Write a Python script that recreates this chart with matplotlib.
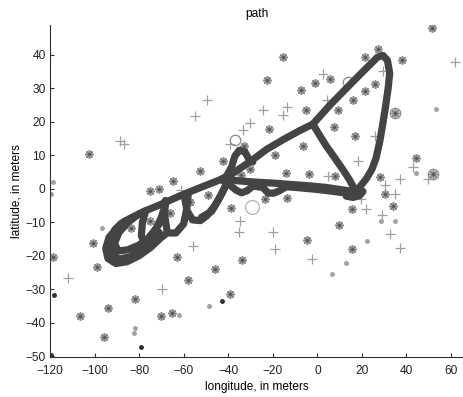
import matplotlib
matplotlib.use("Agg")
import matplotlib.pyplot as plt

# --- track segments (longitude, latitude in meters) ---
upper_x = [-93, -91, -88, -84, -78, -70, -62, -52, -44, -38, -30, -22.7, -15, -7.8, -2, 5.7, 11, 16, 20.5, 24,
           27, 29.5, 31.5, 32.5, 31.8, 30.5, 29.3, 28, 26.3, 24.5, 22, 19, 16]
upper_y = [-15, -12.3, -10.3, -8.8, -6.8, -4.6, -2.2, 0.5, 2.6, 4.6, 8.2, 11.8, 14.8, 17.4, 19.3, 25, 28.6, 32, 35, 37.3,
           39.3, 39.8, 38.3, 34.5, 30, 24, 19, 14, 9, 5.8, 3, 0.5, -1]

diag_x = [-2, 1, 4, 7, 9.5, 11.7, 14.6, 17]
diag_y = [19.3, 16, 12.8, 10, 7.6, 5.5, 2.5, -0.5]

bottom_a_x = [18, 10, 4, -4, -12, -20, -28, -36, -41]
bottom_a_y = [-1, -0.2, 0.4, 0.9, 1.3, 1.7, 2.0, 2.4, 3]
bottom_b_x = [18, 12, 5, 0, -8, -14, -17, -19.5, -22, -24.5, -29, -31.5, -34, -36.5, -39, -42]
bottom_b_y = [-1.5, -1.2, -0.6, -0.2, 0.3, 0.6, -0.6, -1.3, -1.3, 0.4, 0.8, -0.6, -1.2, -0.4, 1.0, 2.2]

corner_x = [13, 16, 19, 20.5, 18]
corner_y = [-2.2, -2.6, -2.0, -0.8, 0]

bump_x = [-41, -38.5, -37, -35, -32.5, -31, -29]
bump_y = [3.5, 6.5, 9.8, 11.5, 11.0, 9.2, 8]

outer_x = [-86, -90, -93.5, -95, -94, -90.5, -85.5, -80, -75, -70.5, -67.5, -63.5, -60, -58.8, -58]
outer_y = [-9.5, -11.8, -14.5, -17.8, -20.8, -22.3, -21.8, -20.0, -17.6, -14.8, -13.2, -13.2, -10.5, -6.5, -2]

inner_x = [-80, -85, -89, -91, -89.5, -85, -80, -76, -72.5, -70, -68]
inner_y = [-7.5, -10, -13, -16.2, -18.6, -18.2, -16.8, -14.8, -12, -8.5, -4.2]

inner2_x = [-77, -78.5, -79, -77.5, -74, -70.5]
inner2_y = [-6.5, -10, -14, -16.5, -13.5, -10]

inner3_x = [-88, -92, -92.5, -89, -84, -79, -74.5, -71]
inner3_y = [-11, -15, -19.5, -21, -20.3, -18.4, -16, -13]

leg_x = [-68.2, -68.5, -67.5]
leg_y = [-3.5, -8, -12.5]

u2_x = [-59.5, -58.5, -56, -52.5, -49.5, -46, -42.5, -40]
u2_y = [-3, -6.5, -9.3, -9.5, -8, -5, -1, 2.5]
u3_x = [-52, -47.5, -44.5, -41.5]
u3_y = [-8.5, -6.8, -3.5, 0.5]

# --- scattered fixes ---
star_x = [51.6, -15.3, 27.4, 21.4, 38.1, -22.7, -1.1, 5.7, -7.1, 21.4, 25.9, 16.1, -5.2, 9.1, -21.6, 7.6,
          16.9, -6.3, -19.0, -32.8, -102.4, 44.3, -42.5, -52.7, -30.2, -34.4, -14.1, -3.8, 7.9, 28.1, 52.0,
          -64.9, -70.9, -75.1, 34.8, -118.8, -100.8, -99.0, -106.5, -95.8, -93.8, -81.8, -70.2, -65.4, -63.1,
          -57.9, -45.9, -39.2, -33.7, -38.8, -23.5, -13.8, -4.8, 9.8, 15.4, 15.4, 34.1, 30.3, -48.9, -57.2,
          -66.1, -75.1, -83.6]
star_y = [47.9, 39.2, 41.6, 39.2, 38.4, 32.4, 31.7, 32.9, 29.4, 29.2, 31.4, 26.4, 23.4, 23.4, 17.8, 18.4,
          15.7, 12.8, 10.0, 12.8, 10.3, 9.2, 8.2, 5.2, 6.0, 4.0, 4.8, 4.5, 3.8, 3.5, 4.5,
          2.2, 0.0, -0.7, 22.5, -20.5, -16.2, -23.5, -38.0, -44.2, -35.6, -32.8, -38.0, -37.1, -20.3,
          -27.2, -24.1, -31.3, -21.2, -5.7, -3.0, -2.7, -15.2, -10.8, -6.0, -18.0, -5.2, -1.5, -2.0, -4.0,
          -7.3, -9.5, -11.7]

plus_x = [-49.7, -54.9, -88.6, -86.8, -24.3, -13.5, -15.3, 2.4, 4.2, -30.2, -33.2, -39.2, 18.4, 4.9, 37.1,
          43.1, 49.5, 61.8, 29.6, 25.9, 30.4, 34.8, -61.0, -111.8, -69.6, -56.0, -34.7, -35.2, -19.8, -19.0,
          -2.6, 19.6, 21.7, 29.1, 32.6, 37.1, -79.6]
plus_y = [26.6, 21.7, 14.2, 13.3, 23.4, 24.4, 21.9, 34.4, 26.6, 19.5, 17.5, 13.5, 8.3, 3.8, 2.8,
          6.5, 3.0, 37.9, 35.2, 15.7, 1.0, -1.5, -0.3, -26.5, -29.8, -17.2, -9.7, -13.0, -12.8, -18.0,
          -21.0, -3.0, -6.0, -7.8, -13.5, -17.7, -19.0]

dot_x = [53.1, -118.8, 44.5, 6.7, 12.9, 22.2, 28.6, 34.8, -48.5, -62.1, -81.8, -82.1, -96.5, -119.7]
dot_y = [23.9, 2.0, 4.8, -25.3, -22.3, -15.5, -9.5, -9.5, -35.0, -37.6, -41.6, -43.1, -11.8, -1.5]

dark_x = [-118.2, -42.7, -79.3, -119.5]
dark_y = [-31.6, -33.4, -47.1, -49.6]

ring_x = [34.8, -37.0, 13.9, 52.0]
ring_y = [22.5, 14.5, 31.9, 4.5]
big_ring_x = [-29.5]
big_ring_y = [-5.5]

plt.rcParams['font.family'] = ['Liberation Sans', 'DejaVu Sans']
plt.rcParams['font.size'] = 8.6

fig = plt.figure(figsize=(4.63, 3.97), dpi=100)
ax = fig.add_axes([0.108, 0.101, 0.892, 0.836])

# scattered markers first, track drawn on top
ax.plot(plus_x, plus_y, '+', color='#a0a0a0', ms=7.5, mew=0.9, ls='none')
ax.plot(star_x, star_y, marker=(8, 2, 0), color='#8a8a8a', ms=6, mew=1.2, ls='none')
ax.plot(star_x, star_y, 'o', color='#555555', ms=2.2, mew=0, ls='none')
ax.plot(dot_x, dot_y, '.', color='#a0a0a0', ms=5, ls='none')
ax.plot(dark_x, dark_y, '.', color='#303030', ms=5, ls='none')
ax.plot(ring_x, ring_y, 'o', mfc='none', mec='#8a8a8a', ms=7.5, mew=0.9, ls='none')
ax.plot(big_ring_x, big_ring_y, 'o', mfc='none', mec='#b4b4b4', ms=10, mew=0.9, ls='none')

segments = [(upper_x, upper_y), (diag_x, diag_y), (bottom_a_x, bottom_a_y), (bottom_b_x, bottom_b_y),
            (corner_x, corner_y), (bump_x, bump_y), (outer_x, outer_y), (inner_x, inner_y),
            (inner2_x, inner2_y), (inner3_x, inner3_y), (leg_x, leg_y), (u2_x, u2_y), (u3_x, u3_y)]
for sx, sy in segments:
    ax.plot(sx, sy, color='#444444', lw=5.2, solid_capstyle='round', solid_joinstyle='round')

ax.set_xlim(-120, 65.4)
ax.set_ylim(-50.2, 48.9)
ax.set_xticks(range(-120, 61, 20))
ax.set_yticks(range(-50, 41, 10))
ax.spines['top'].set_visible(False)
ax.spines['right'].set_visible(False)
for s in ('left', 'bottom'):
    ax.spines[s].set_color('#303030')
ax.tick_params(direction='in', length=3, colors='#303030', labelcolor='#222222')
ax.tick_params(axis='x', pad=5.5)
ax.tick_params(axis='y', pad=3.2)

ax.set_title('path', fontsize=8.6, pad=6)
ax.set_xlabel('longitude, in meters', labelpad=3)
ax.set_ylabel('latitude, in meters', labelpad=2)

fig.savefig('out.png', dpi=100)
